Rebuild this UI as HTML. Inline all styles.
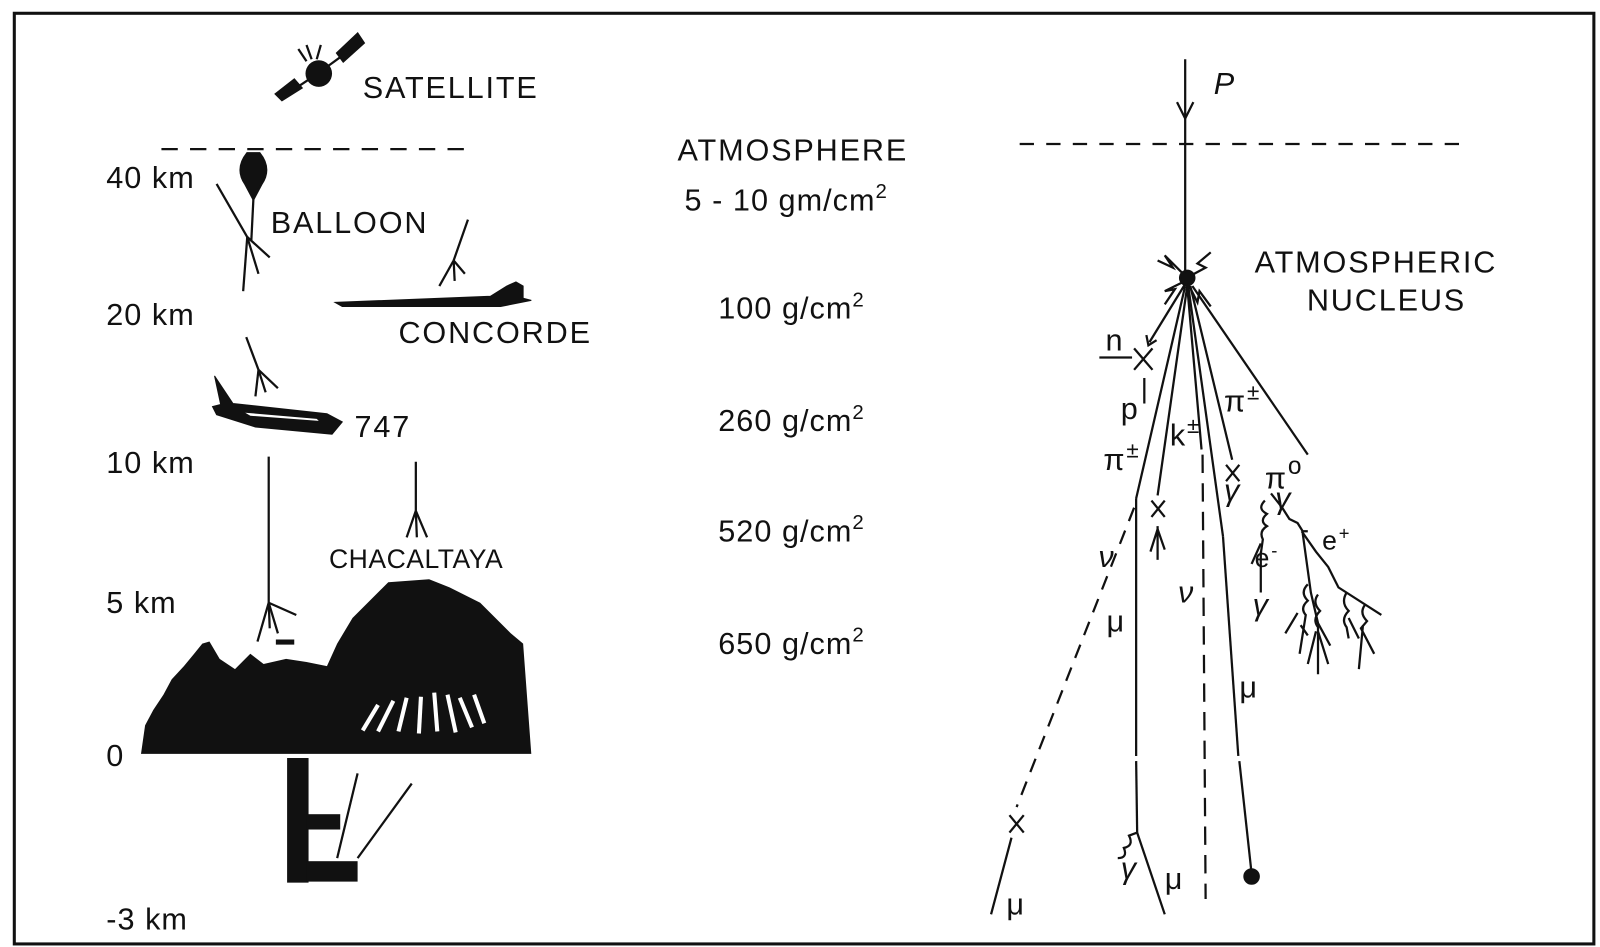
<!DOCTYPE html>
<html><head><meta charset="utf-8"><style>
html,body{margin:0;padding:0;background:#fff;}
svg{display:block;}
text{font-family:"Liberation Sans",sans-serif;fill:#111;}
</style></head><body>
<svg width="1600" height="947" viewBox="0 0 1566 927" preserveAspectRatio="none" xmlns="http://www.w3.org/2000/svg">
<rect x="14" y="13" width="1546" height="911" fill="none" stroke="#111" stroke-width="3"/>
<g stroke="#111" fill="none" stroke-width="2.2">
<!-- satellite -->
<circle cx="312" cy="72" r="13" fill="#111" stroke="none"/>
<polygon points="330,52 350,33 356,42 336,60" fill="#111"/>
<polygon points="270,92 288,78 295,86 276,98" fill="#111"/>
<line x1="290" y1="86" x2="302" y2="78"/><line x1="322" y1="64" x2="333" y2="56"/>
<line x1="300" y1="60" x2="292" y2="48"/><line x1="305" y1="58" x2="300" y2="44"/><line x1="310" y1="58" x2="314" y2="44"/>
<!-- dashed lines -->
<line x1="158" y1="146" x2="458" y2="146" stroke-dasharray="16,12"/>
<line x1="998" y1="141" x2="1432" y2="141" stroke-dasharray="14,12"/>
<!-- balloon -->
<path d="M242,150 Q230,165 240,180 L248,195 L256,180 Q266,165 254,150 Z" fill="#111"/>
<line x1="248" y1="195" x2="246" y2="235"/>
<line x1="212" y1="180" x2="242" y2="232"/><line x1="242" y1="232" x2="238" y2="285"/>
<line x1="242" y1="232" x2="264" y2="252"/><line x1="242" y1="232" x2="253" y2="268"/>
<!-- concorde track -->
<line x1="458" y1="215" x2="444" y2="255"/><line x1="444" y1="255" x2="430" y2="280"/><line x1="444" y1="255" x2="445" y2="275"/><line x1="444" y1="255" x2="455" y2="268"/>
<!-- concorde plane -->
<path d="M328,296 L480,290 L496,280 L505,276 L512,280 L512,292 L520,294 L490,300 L335,300 Z" fill="#111" stroke-width="1"/>
<!-- 747 track -->
<line x1="241" y1="330" x2="253" y2="362"/><line x1="253" y1="362" x2="250" y2="388"/><line x1="253" y1="362" x2="272" y2="380"/><line x1="253" y1="362" x2="260" y2="384"/>
<!-- 747 plane -->
<path d="M210,368 L228,395 L320,405 L335,413 L325,425 L250,418 L212,406 L208,398 L216,396 Z" fill="#111" stroke-width="1"/>
<path d="M240,404 L310,410 L312,412 L245,407 Z" fill="#fff" stroke="none"/>
<!-- 10km track -->
<line x1="263" y1="447" x2="263" y2="590"/><line x1="263" y1="590" x2="264" y2="615"/><line x1="263" y1="590" x2="290" y2="602"/><line x1="263" y1="590" x2="252" y2="628"/><line x1="263" y1="590" x2="272" y2="620"/>
<!-- chacaltaya track -->
<line x1="407" y1="452" x2="407" y2="500"/><line x1="407" y1="500" x2="398" y2="526"/><line x1="407" y1="500" x2="418" y2="526"/><line x1="407" y1="500" x2="408" y2="526"/>
<!-- detector small -->
<rect x="270" y="626" width="18" height="5" fill="#111" stroke="none"/>
<!-- mountains -->
<path d="M138,738 L142,710 L150,695 L160,680 L168,665 L180,652 L190,640 L198,630 L205,628 L215,645 L230,655 L245,640 L258,650 L280,645 L300,648 L320,652 L330,630 L345,605 L380,570 L420,567 L440,575 L470,590 L500,620 L512,630 L520,738 Z" fill="#111" stroke="none"/>
<g stroke="#fff" stroke-width="4">
<line x1="355" y1="715" x2="370" y2="690"/><line x1="370" y1="716" x2="385" y2="686"/><line x1="390" y1="716" x2="398" y2="683"/><line x1="410" y1="718" x2="412" y2="682"/><line x1="428" y1="716" x2="425" y2="678"/><line x1="446" y1="717" x2="438" y2="680"/><line x1="462" y1="712" x2="450" y2="683"/><line x1="474" y1="708" x2="464" y2="680"/>
</g>
<!-- underground -->
<rect x="281" y="742" width="21" height="122" fill="#111" stroke="none"/>
<rect x="300" y="797" width="33" height="15" fill="#111" stroke="none"/>
<rect x="300" y="843" width="50" height="20" fill="#111" stroke="none"/>
<line x1="350" y1="757" x2="330" y2="840"/><line x1="403" y1="767" x2="350" y2="840"/>
<!-- right: P -->
<line x1="1160" y1="58" x2="1160" y2="268"/>
<polyline points="1152,100 1160,116 1168,100"/>
<circle cx="1162" cy="272" r="7" fill="#111"/>
<polyline points="1133,255 1148,262 1140,250 1158,268"/>
<polyline points="1185,247 1172,258 1180,262 1165,270"/>
<polyline points="1140,298 1150,283 1140,285 1158,276"/>
<polyline points="1185,300 1174,285 1172,296 1163,278"/>
<!-- tracks -->
<line x1="1160" y1="278" x2="1125" y2="335"/><polyline points="1122,328 1124,338 1132,333"/>
<line x1="1110" y1="341" x2="1128" y2="362"/><line x1="1128" y1="341" x2="1110" y2="362"/>
<line x1="1076" y1="350" x2="1108" y2="350"/>
<line x1="1120" y1="370" x2="1120" y2="395"/>
<line x1="1160" y1="280" x2="1112" y2="488"/>
<line x1="1112" y1="488" x2="1112" y2="740"/><line x1="1112" y1="745" x2="1113" y2="815"/><line x1="1113" y1="815" x2="1140" y2="895"/>
<path d="M1113,815 L1105,818 Q1110,828 1100,830 Q1104,840 1094,840"/>
<line x1="1110" y1="497" x2="995" y2="790" stroke-dasharray="14,10"/>
<line x1="988" y1="798" x2="1002" y2="815"/><line x1="1002" y1="798" x2="988" y2="815"/>
<line x1="990" y1="820" x2="970" y2="895"/>
<line x1="1162" y1="280" x2="1133" y2="485"/>
<line x1="1127" y1="490" x2="1140" y2="506"/><line x1="1140" y1="490" x2="1127" y2="506"/>
<line x1="1133" y1="515" x2="1133" y2="548"/><line x1="1133" y1="518" x2="1126" y2="540"/><line x1="1133" y1="518" x2="1140" y2="538"/>
<line x1="1162" y1="280" x2="1176" y2="440"/>
<line x1="1177" y1="445" x2="1180" y2="880" stroke-dasharray="18,10"/>
<line x1="1163" y1="280" x2="1197" y2="525"/><line x1="1197" y1="525" x2="1212" y2="740"/><line x1="1213" y1="745" x2="1225" y2="855"/>
<circle cx="1225" cy="858" r="7" fill="#111"/>
<line x1="1165" y1="280" x2="1206" y2="450"/>
<line x1="1200" y1="455" x2="1213" y2="471"/><line x1="1213" y1="455" x2="1200" y2="471"/>
<line x1="1167" y1="280" x2="1280" y2="445"/>
<!-- pi0 cascade -->
<path d="M1244,483 L1255,497 L1262,508 L1270,512 L1275,520 L1280,520"/>
<path d="M1238,490 Q1230,498 1240,503 Q1232,510 1240,515 Q1232,520 1236,528 L1234,542"/>
<line x1="1234" y1="540" x2="1234" y2="580"/><line x1="1234" y1="532" x2="1225" y2="552"/>
<path d="M1274,520 L1288,540 L1300,555 L1310,575 L1352,602"/>
<path d="M1275,522 L1283,580 L1290,610 L1302,632"/>
<path d="M1280,572 Q1272,580 1280,588 Q1272,595 1278,602 L1272,640 M1270,600 L1258,620 M1273,612 L1280,622"/>
<path d="M1290,582 Q1284,590 1292,598 Q1284,606 1290,614 L1290,660 M1288,618 L1280,650 M1290,618 L1300,650"/>
<path d="M1318,580 Q1312,590 1320,598 Q1312,606 1318,614 L1320,625 M1320,605 L1330,625"/>
<path d="M1336,592 Q1330,600 1338,608 L1332,615 L1345,640 M1334,612 L1330,655"/>
</g>
<g font-size="30" letter-spacing="1.8">
<text x="355" y="96">SATELLITE</text>
<text x="104" y="184" letter-spacing="1">40 km</text>
<text x="265" y="228">BALLOON</text>
<text x="104" y="318" letter-spacing="1">20 km</text>
<text x="390" y="336">CONCORDE</text>
<text x="347" y="428">747</text>
<text x="104" y="463" letter-spacing="1">10 km</text>
<text x="322" y="556" font-size="26" letter-spacing="0.5">CHACALTAYA</text>
<text x="104" y="600" letter-spacing="1">5 km</text>
<text x="104" y="750">0</text>
<text x="104" y="910" letter-spacing="1">-3 km</text>
<text x="776" y="157" text-anchor="middle">ATMOSPHERE</text>
<text x="670" y="206" letter-spacing="1">5 - 10 gm/cm<tspan font-size="20" dy="-12">2</tspan></text>
<text x="703" y="312" letter-spacing="1">100 g/cm<tspan font-size="20" dy="-12">2</tspan></text>
<text x="703" y="422" letter-spacing="1">260 g/cm<tspan font-size="20" dy="-12">2</tspan></text>
<text x="703" y="530" letter-spacing="1">520 g/cm<tspan font-size="20" dy="-12">2</tspan></text>
<text x="703" y="640" letter-spacing="1">650 g/cm<tspan font-size="20" dy="-12">2</tspan></text>
<text x="1188" y="92" font-style="italic">P</text>
<text x="1228" y="267">ATMOSPHERIC</text>
<text x="1357" y="304" text-anchor="middle">NUCLEUS</text>
<text x="1082" y="343">n</text>
<text x="1097" y="410">p</text>
<text x="1080" y="460" font-family="Liberation Serif">π<tspan font-size="22" dy="-12">±</tspan></text>
<text x="1145" y="436">k<tspan font-size="22" dy="-12">±</tspan></text>
<text x="1198" y="403" font-family="Liberation Serif">π<tspan font-size="22" dy="-12">±</tspan></text>
<text x="1238" y="478" font-family="Liberation Serif">π<tspan font-size="24" dy="-14">o</tspan></text>
<text x="1198" y="490" font-family="Liberation Serif" font-style="italic">γ</text>
<text x="1248" y="498" font-family="Liberation Serif" font-style="italic">γ</text>
<text x="1228" y="555" font-size="26">e<tspan font-size="18" dy="-10">-</tspan></text>
<text x="1294" y="538" font-size="26">e<tspan font-size="18" dy="-10">+</tspan></text>
<text x="1226" y="602" font-family="Liberation Serif" font-style="italic">γ</text>
<text x="1075" y="555" font-family="Liberation Serif" font-style="italic">ν</text>
<text x="1153" y="590" font-family="Liberation Serif" font-style="italic">ν</text>
<text x="1083" y="618" font-family="Liberation Serif">μ</text>
<text x="1213" y="683" font-family="Liberation Serif">μ</text>
<text x="1097" y="860" font-family="Liberation Serif" font-style="italic">γ</text>
<text x="1140" y="870" font-family="Liberation Serif">μ</text>
<text x="985" y="895" font-family="Liberation Serif">μ</text>
</g>
</svg>
</body></html>
